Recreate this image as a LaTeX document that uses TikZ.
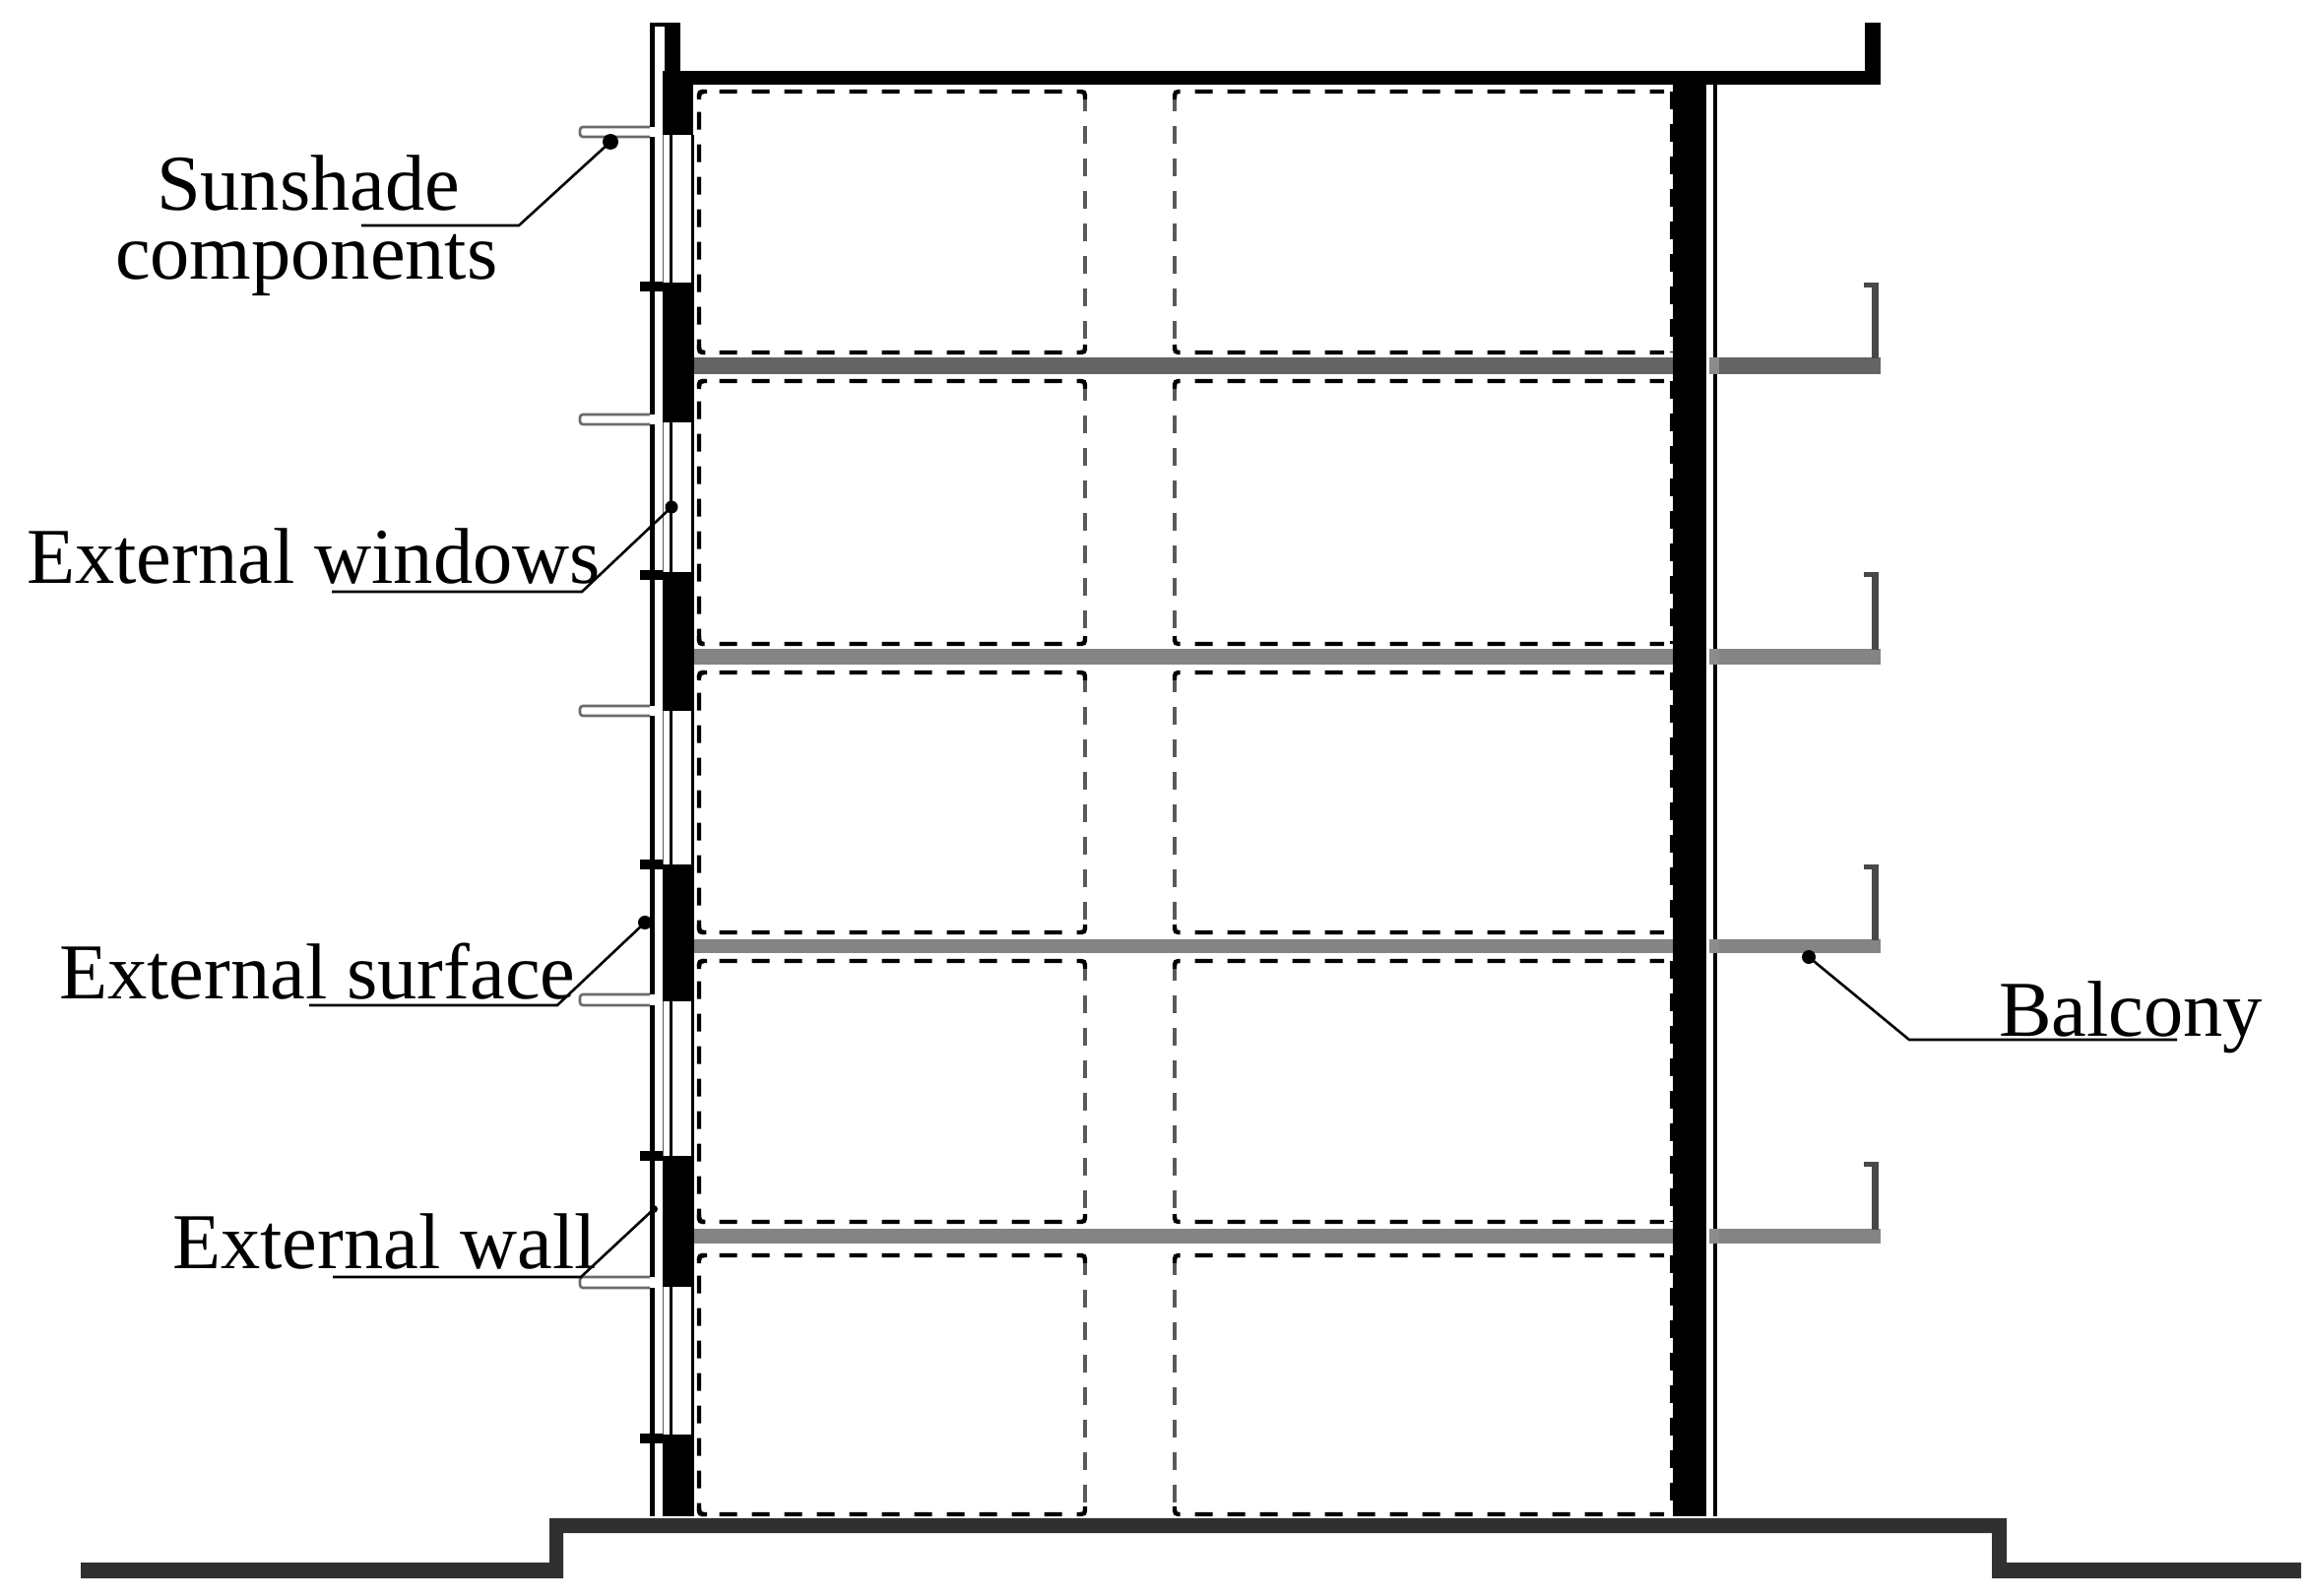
\documentclass[tikz,border=0pt]{standalone}
\usepackage{fontspec}
\setmainfont{Liberation Serif}
\definecolor{groundc}{HTML}{303030}
\definecolor{midgray}{HTML}{5A5A5A}
\definecolor{uprightc}{HTML}{484848}
\definecolor{shadeline}{HTML}{6A6A6A}
\definecolor{slabdark}{HTML}{646464}
\definecolor{slablight}{HTML}{848484}
\tikzset{
  roomdash/.style={line width=2.2pt,dash pattern=on 9pt off 7.5pt,dash phase=3pt,black},
  roomside/.style={line width=2.4pt,dash pattern=on 9pt off 7.5pt,dash phase=3pt,midgray},
  wallfill/.style={fill=black,draw=none},
  label/.style={font=\fontsize{40.2pt}{40.2pt}\selectfont,anchor=base west,inner sep=0pt,outer sep=0pt},
  leader/.style={line width=1.3pt,black},
  leaderdot/.style={fill=black,draw=none},
  thinline/.style={line width=1.1pt,black}
}
\newcommand{\roomA}[4]{%
  \draw[roomdash] (#1,#3+8) .. controls (#1,#3) .. (#1+8,#3) -- (#2-8,#3) .. controls (#2,#3) .. (#2,#3+8);
  \draw[roomdash] (#1+8,#3) .. controls (#1,#3) .. (#1,#3+8) -- (#1,#4-8) .. controls (#1,#4) .. (#1+8,#4);
  \draw[roomdash] (#1,#4-8) .. controls (#1,#4) .. (#1+8,#4) -- (#2-8,#4) .. controls (#2,#4) .. (#2,#4-8);
  \draw[roomside] (#2,#3+8) -- (#2,#4-8);
}
\newcommand{\roomB}[4]{%
  \draw[roomdash] (#1,#3+8) .. controls (#1,#3) .. (#1+8,#3) -- (#2-8,#3);
  \draw[roomside] (#1,#3+8) -- (#1,#4-8);
  \draw[roomdash] (#1,#4-8) .. controls (#1,#4) .. (#1+8,#4) -- (#2-8,#4);
  \draw[line width=2.5pt,dash pattern=on 9pt off 7.5pt,black] (#2,#3) -- (#2,#4);
}
\begin{document}
\begin{tikzpicture}[x=0.5pt,y=-0.5pt]
\useasboundingbox (0,0) rectangle (2340,1621);
\fill[white] (0,0) rectangle (2340,1621);

% rooms
\foreach \ya/\yb in {93/358,387/654,683/947,976/1241,1275/1538}{
  \roomA{710}{1102}{\ya}{\yb}
  \roomB{1193}{1698}{\ya}{\yb}
}

% floor slabs and balconies
\foreach \ya/\yb/\yc/\shade in {363/380/287/slabdark,659/675/581/slablight,954/968/878/slablight,1248/1263/1180/slablight}{
  \fill[\shade] (704,\ya) rectangle (1699,\yb);
  \fill[\shade] (1736,\ya) rectangle (1910,\yb);
  \fill[uprightc] (1901,\yc) rectangle (1908,\ya+1);
  \fill[uprightc] (1893,\yc) rectangle (1908,\yc+5);
}

% left facade: outer line
\fill[black] (660,23) rectangle (665,1540);
\fill[black] (660,23) rectangle (691,27);

% left wall
\fill[wallfill] (675,23) rectangle (691,86);
\fill[wallfill] (673,72) rectangle (704,137);
\foreach \ya/\yb in {287/429,581/722,878/1017,1174/1307,1457/1540}{
  \fill[wallfill] (673,\ya) rectangle (705,\yb);
}
% windows
\foreach \ya/\yb in {137/287,429/581,722/878,1017/1174,1307/1457}{
  \draw[line width=0.9pt,black!65] (673.5,\ya) -- (673.5,\yb);
  \draw[thinline] (681.5,\ya) -- (681.5,\yb);
  \draw[thinline] (703.5,\ya) -- (703.5,\yb);
}
% roof
\fill[wallfill] (691,72) rectangle (1910,86);
\fill[wallfill] (1894,23) rectangle (1910,86);
% right wall
\fill[wallfill] (1699,72) rectangle (1733,1540);
\fill[black] (1740,86) rectangle (1744,1540);
% balcony slabs over the thin line
\foreach \ya/\yb in {363/380,659/675,954/968,1248/1263}{
  \fill[black!45] (1736,\ya) rectangle (1746,\yb);
}

% stubs at floors
\foreach \y in {291,584,878,1174,1461}{
  \fill[black] (650,\y-5) rectangle (673,\y+5);
}

% sunshades
\foreach \ya/\yb in {129/139,421/431,717/727,1010/1021,1297/1308}{
  \fill[white] (590,\ya) rectangle (672,\yb);
  \draw[line width=1.3pt,shadeline,rounded corners=1.5pt] (660,\ya) -- (589,\ya) -- (589,\yb) -- (660,\yb);
}

% ground
\fill[groundc] (82,1587) -- (558,1587) -- (558,1542) -- (2038,1542) -- (2038,1587) -- (2337,1587)
  -- (2337,1603) -- (2023,1603) -- (2023,1557) -- (572,1557) -- (572,1603) -- (82,1603) -- cycle;

% labels
\node[label] (lsun) at (159,214) {Sunshade};
\node[label] (lcomp) at (117,284) {components};
\node[label] (lwin) at (27,592) {External windows};
\node[label] (lsurf) at (60,1014) {External surface};
\node[label] (lwall) at (175,1288) {External wall};
\node[label] (lbal) at (2030,1052) {Balcony};

% leader points
\coordinate (sa) at (367,229); \coordinate (sb) at (527,229); \coordinate (sc) at (620,144);
\coordinate (wa) at (337,601); \coordinate (wb) at (591,601); \coordinate (wc) at (682,515);
\coordinate (fa) at (314,1021); \coordinate (fb) at (566,1021); \coordinate (fc) at (655,937);
\coordinate (xa) at (338,1297); \coordinate (xb) at (590,1297); \coordinate (xc) at (664,1228);
\coordinate (ba) at (2211,1056); \coordinate (bb) at (1939,1056); \coordinate (bc) at (1837,972);

\draw[leader] (sa) -- (sb) -- (sc);
\draw[leader] (wa) -- (wb) -- (wc);
\draw[leader] (fa) -- (fb) -- (fc);
\draw[leader] (xa) -- (xb) -- (xc);
\draw[leader] (ba) -- (bb) -- (bc);
\fill[leaderdot] (sc) circle[radius=8];
\fill[leaderdot] (wc) circle[radius=6.5];
\fill[leaderdot] (fc) circle[radius=7];
\fill[leaderdot] (xc) circle[radius=4];
\fill[leaderdot] (bc) circle[radius=7];
\end{tikzpicture}
\end{document}
